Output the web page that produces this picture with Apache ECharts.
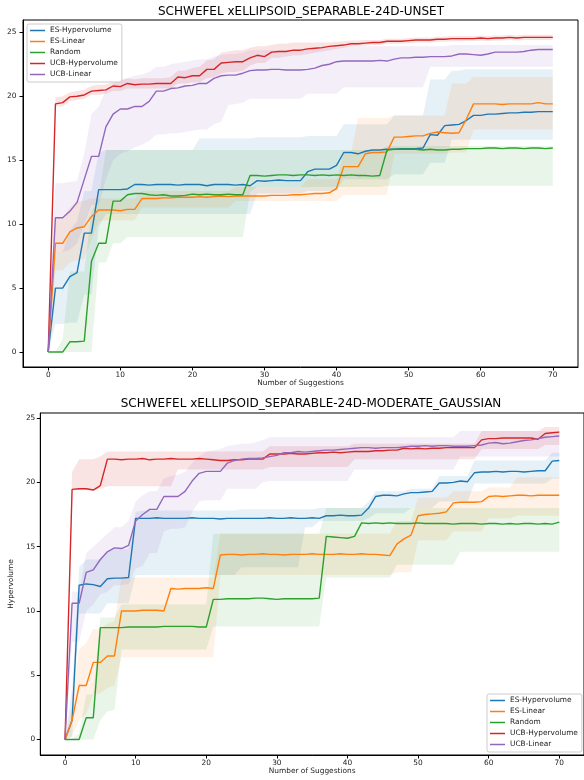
<!DOCTYPE html>
<html>
<head>
<meta charset="utf-8">
<script src="https://cdn.jsdelivr.net/npm/echarts@6/dist/echarts.min.js"></script>
<style>
  html, body { margin: 0; padding: 0; background: #fff; }
  #chart { width: 584px; height: 780px; }
</style>
</head>
<body>
<div id="chart"></div>
<script>
// x = suggestion number 0..70
const suggestions = Array.from({length: 71}, (_, i) => i);
const methods = ['ES-Hypervolume', 'ES-Linear', 'Random', 'UCB-Hypervolume', 'UCB-Linear'];
const xTicks = [0, 10, 20, 30, 40, 50, 60, 70];
const yTicks = [0, 5, 10, 15, 20, 25];
const titles = ['SCHWEFEL xELLIPSOID_SEPARABLE-24D-UNSET', 'SCHWEFEL xELLIPSOID_SEPARABLE-24D-MODERATE_GAUSSIAN'];

// ---- top panel (UNSET) ----
const topEsHv = [0, 5.0, 5.0, 5.9, 6.2, 9.3, 9.3, 12.7, 12.7, 12.7,
  12.7, 12.75, 13.1, 13.1, 13.05, 13.1, 13.1, 13.1, 13.05, 13.1,
  13.1, 13.1, 13.0, 13.1, 13.1, 13.1, 13.05, 13.1, 13.0, 13.4,
  13.35, 13.4, 13.45, 13.4, 13.4, 13.4, 14.1, 14.3, 14.3, 14.3,
  14.6, 15.6, 15.6, 15.5, 15.7, 15.8, 15.8, 15.85, 15.85, 15.9,
  15.9, 15.9, 15.95, 17.0, 16.95, 17.7, 17.75, 17.8, 18.1, 18.5,
  18.5, 18.6, 18.6, 18.65, 18.7, 18.7, 18.75, 18.75, 18.8, 18.8,
  18.8];
const topEsHvLo = [0, 2.2, 2.2, 2.3, 2.3, 4.5, 4.5, 9.8, 10.8, 10.8,
  10.8, 10.8, 10.8, 10.8, 10.8, 10.8, 10.8, 10.8, 10.8, 10.8,
  10.8, 10.8, 10.8, 10.8, 10.8, 10.8, 10.8, 10.8, 10.8, 12.4,
  12.4, 12.4, 12.4, 12.4, 12.4, 12.4, 12.6, 12.6, 12.6, 12.6,
  12.6, 13.5, 13.5, 13.5, 13.5, 13.5, 13.5, 13.5, 13.9, 13.9,
  13.9, 13.9, 13.9, 14.8, 14.8, 14.8, 16.6, 16.6, 16.6, 16.6,
  16.6, 16.6, 16.6, 16.6, 16.6, 16.6, 16.6, 16.6, 16.6, 16.6,
  16.6];
const topEsHvHi = [0, 7.8, 7.8, 9.5, 10.2, 12.6, 12.6, 15.6, 15.8, 15.8,
  15.8, 15.8, 15.8, 15.8, 15.8, 15.8, 15.8, 15.8, 15.8, 15.8,
  15.8, 16.7, 16.7, 16.7, 16.7, 16.7, 16.7, 16.7, 16.7, 16.8,
  16.8, 16.8, 16.8, 16.8, 16.8, 16.8, 16.9, 16.9, 16.9, 16.9,
  16.9, 17.8, 17.8, 17.8, 17.8, 17.8, 17.8, 17.8, 18.5, 18.5,
  18.5, 18.5, 18.5, 21.3, 21.3, 21.3, 22.0, 22.0, 22.1, 22.1,
  22.1, 22.1, 22.1, 22.1, 22.1, 22.1, 22.1, 22.1, 22.1, 22.1,
  22.1];

const topEsLin = [0, 8.5, 8.5, 9.4, 9.7, 9.8, 10.6, 11.1, 11.1, 11.1,
  11.05, 11.15, 11.15, 12.0, 12.0, 12.0, 12.05, 12.05, 12.1, 12.1,
  12.1, 12.15, 12.1, 12.15, 12.2, 12.15, 12.2, 12.2, 12.2, 12.2,
  12.2, 12.25, 12.25, 12.25, 12.3, 12.3, 12.35, 12.4, 12.4, 12.45,
  12.8, 14.5, 14.5, 14.5, 15.5, 15.6, 15.6, 15.65, 16.8, 16.8,
  16.85, 16.9, 16.9, 17.1, 17.2, 17.15, 17.1, 17.15, 18.2, 19.4,
  19.4, 19.4, 19.4, 19.35, 19.4, 19.4, 19.4, 19.4, 19.5, 19.4,
  19.4];
const topEsLinLo = [0, 6.4, 6.4, 7.0, 7.2, 7.3, 8.8, 10.2, 10.3, 10.3,
  10.3, 10.3, 10.3, 11.3, 11.3, 11.3, 11.3, 11.3, 11.3, 11.3,
  11.3, 11.3, 11.3, 11.3, 11.3, 11.3, 11.8, 11.8, 11.8, 11.8,
  11.8, 11.8, 11.8, 11.8, 11.8, 11.8, 11.8, 11.8, 11.8, 11.8,
  11.8, 12.3, 12.3, 12.3, 12.3, 12.3, 12.3, 12.3, 15.5, 15.5,
  15.5, 15.5, 15.5, 15.5, 15.5, 15.5, 15.6, 15.6, 15.6, 17.4,
  17.4, 17.4, 17.4, 17.4, 17.4, 17.4, 17.4, 17.4, 17.4, 17.4,
  17.4];
const topEsLinHi = [0, 10.5, 10.5, 11.3, 11.8, 11.8, 12.0, 12.0, 12.0, 12.0,
  12.0, 12.0, 12.0, 12.6, 12.6, 12.6, 12.6, 12.6, 12.6, 12.6,
  12.6, 12.6, 12.6, 12.6, 12.6, 12.6, 12.9, 12.9, 12.9, 12.9,
  12.9, 12.9, 12.9, 12.9, 12.9, 12.9, 13.5, 13.5, 13.5, 13.5,
  13.5, 15.5, 15.5, 18.3, 18.3, 18.3, 18.3, 18.3, 18.5, 18.5,
  18.5, 18.5, 18.5, 18.5, 18.5, 18.5, 21.0, 21.0, 21.0, 21.5,
  21.5, 21.5, 21.5, 21.5, 21.5, 21.5, 21.5, 21.5, 21.5, 21.5,
  21.5];

const topRandom = [0, 0, 0, 0.8, 0.8, 0.85, 7.1, 8.5, 8.5, 11.8,
  11.8, 12.3, 12.4, 12.4, 12.3, 12.25, 12.3, 12.2, 12.2, 12.25,
  12.35, 12.3, 12.35, 12.3, 12.3, 12.35, 12.3, 12.3, 13.8, 13.8,
  13.75, 13.8, 13.85, 13.85, 13.8, 13.85, 13.85, 13.8, 13.85, 13.8,
  13.85, 13.8, 13.85, 13.8, 13.8, 13.75, 13.8, 15.8, 15.85, 15.85,
  15.85, 15.85, 15.8, 15.85, 15.8, 15.8, 15.85, 15.85, 15.9, 15.9,
  15.9, 15.95, 15.95, 15.9, 15.95, 15.95, 15.9, 15.95, 15.95, 15.9,
  15.95];
const topRandomLo = [0, 0, 0, 0, 0, 0, 0, 7.0, 7.0, 8.5,
  8.5, 9.0, 9.0, 9.0, 9.0, 9.0, 9.0, 9.0, 9.0, 9.0,
  9.0, 9.0, 9.0, 9.0, 9.0, 9.0, 9.0, 9.0, 12.5, 12.9,
  12.9, 12.9, 12.9, 12.9, 12.9, 12.9, 12.9, 12.9, 12.9, 12.9,
  12.9, 12.9, 12.9, 12.9, 12.9, 12.9, 12.9, 13.0, 13.0, 13.0,
  13.0, 13.0, 13.0, 13.0, 13.0, 13.0, 13.0, 13.0, 13.0, 13.0,
  13.0, 13.0, 13.0, 13.0, 13.0, 13.0, 13.0, 13.0, 13.0, 13.0,
  13.0];
const topRandomHi = [0, 0, 1.0, 6.3, 6.3, 6.3, 11.0, 12.0, 15.8, 15.8,
  15.8, 15.8, 15.8, 15.8, 15.8, 15.8, 15.8, 15.8, 15.8, 15.8,
  15.8, 15.8, 15.8, 15.8, 15.8, 15.8, 15.8, 15.8, 15.8, 15.8,
  15.8, 15.8, 15.8, 15.8, 15.8, 15.8, 15.8, 15.8, 15.8, 15.8,
  15.8, 15.8, 15.8, 15.8, 15.8, 15.8, 15.8, 16.1, 16.1, 16.1,
  16.1, 16.1, 16.1, 16.1, 16.1, 16.1, 16.1, 16.1, 16.1, 16.1,
  16.1, 16.1, 16.1, 16.1, 16.1, 16.1, 16.1, 16.1, 16.1, 16.1,
  16.1];

const topUcbHv = [0, 19.4, 19.5, 19.95, 20.0, 20.1, 20.4, 20.45, 20.5, 20.8,
  20.75, 21.0, 20.9, 20.95, 20.95, 21.0, 21.0, 21.0, 21.5, 21.45,
  21.6, 21.6, 22.1, 22.1, 22.6, 22.65, 22.7, 22.7, 23.0, 23.2,
  23.1, 23.45, 23.5, 23.5, 23.6, 23.6, 23.7, 23.75, 23.8, 23.9,
  23.95, 24.0, 24.1, 24.1, 24.15, 24.2, 24.2, 24.3, 24.3, 24.3,
  24.35, 24.4, 24.4, 24.4, 24.45, 24.45, 24.5, 24.5, 24.5, 24.5,
  24.55, 24.5, 24.55, 24.55, 24.6, 24.55, 24.6, 24.6, 24.6, 24.6,
  24.6];
const topUcbHvLo = [0, 19.2, 19.2, 19.6, 19.7, 19.8, 20.1, 20.1, 20.2, 20.4,
  20.4, 20.6, 20.6, 20.6, 20.6, 20.6, 20.6, 20.6, 21.0, 21.0,
  21.1, 21.1, 21.4, 21.5, 21.8, 21.9, 21.9, 22.0, 22.4, 22.6,
  22.6, 23.0, 23.0, 23.1, 23.2, 23.2, 23.3, 23.4, 23.5, 23.6,
  23.7, 23.8, 23.9, 23.9, 23.95, 24.0, 24.0, 24.1, 24.1, 24.1,
  24.15, 24.2, 24.2, 24.2, 24.25, 24.25, 24.3, 24.3, 24.3, 24.3,
  24.35, 24.3, 24.35, 24.35, 24.4, 24.35, 24.4, 24.4, 24.4, 24.4,
  24.4];
const topUcbHvHi = [0, 19.9, 20.0, 20.3, 20.4, 20.5, 20.8, 20.9, 20.9, 21.2,
  21.2, 21.4, 21.3, 21.4, 21.4, 21.4, 21.4, 21.5, 22.0, 22.0,
  22.2, 22.3, 22.8, 22.9, 23.4, 23.5, 23.6, 23.6, 23.8, 23.9,
  23.9, 24.0, 24.1, 24.1, 24.2, 24.2, 24.2, 24.2, 24.2, 24.2,
  24.25, 24.3, 24.35, 24.35, 24.4, 24.4, 24.4, 24.5, 24.5, 24.5,
  24.55, 24.6, 24.6, 24.6, 24.65, 24.65, 24.7, 24.7, 24.7, 24.7,
  24.75, 24.7, 24.75, 24.75, 24.8, 24.75, 24.8, 24.8, 24.8, 24.8,
  24.8];

const topUcbLin = [0, 10.5, 10.5, 11.0, 11.7, 13.5, 15.3, 15.3, 17.6, 18.6,
  19.0, 19.0, 19.2, 19.2, 19.6, 20.4, 20.4, 20.6, 20.65, 20.8,
  20.85, 21.0, 21.0, 21.4, 21.6, 21.65, 21.65, 21.8, 22.0, 22.05,
  22.05, 22.1, 22.1, 22.05, 22.05, 22.05, 22.1, 22.2, 22.4, 22.5,
  22.7, 22.75, 22.75, 22.75, 22.75, 22.75, 22.8, 22.75, 22.9, 23.0,
  23.0, 23.05, 23.05, 23.1, 23.1, 23.1, 23.15, 23.3, 23.3, 23.25,
  23.2, 23.3, 23.45, 23.45, 23.45, 23.45, 23.5, 23.6, 23.65, 23.65,
  23.65];
const topUcbLinLo = [0, 7.8, 7.8, 8.0, 8.5, 10.0, 11.5, 11.5, 13.5, 15.0,
  15.5, 15.7, 16.0, 16.2, 16.5, 17.0, 17.0, 17.1, 17.1, 17.2,
  17.3, 17.4, 17.4, 17.8, 18.0, 19.3, 19.4, 19.5, 19.8, 19.8,
  19.8, 19.8, 19.8, 19.8, 19.8, 19.8, 20.2, 20.2, 20.2, 20.2,
  20.2, 20.7, 20.7, 20.7, 20.7, 20.7, 20.7, 20.7, 20.7, 20.7,
  20.7, 20.7, 20.7, 22.3, 22.3, 22.3, 22.3, 22.3, 22.3, 22.3,
  22.3, 22.3, 22.3, 22.3, 22.3, 22.3, 22.3, 22.3, 22.3, 22.3,
  22.3];
const topUcbLinHi = [0, 13.2, 13.2, 13.3, 13.4, 15.5, 18.6, 19.2, 20.5, 21.0,
  21.3, 21.4, 21.6, 21.7, 21.9, 22.3, 22.3, 22.5, 22.6, 22.7,
  22.8, 22.9, 22.9, 23.1, 23.2, 23.3, 23.3, 23.4, 23.6, 23.6,
  23.6, 23.6, 23.6, 23.6, 23.6, 23.6, 23.8, 23.8, 23.8, 23.8,
  23.8, 23.9, 23.9, 23.9, 23.9, 23.9, 23.9, 23.9, 23.9, 23.9,
  23.9, 23.9, 23.9, 23.9, 23.9, 23.9, 24.0, 24.0, 24.0, 24.0,
  24.0, 24.0, 24.0, 24.0, 24.0, 24.0, 24.0, 24.0, 24.0, 24.0,
  24.0];

// ---- bottom panel (MODERATE_GAUSSIAN) ----
const botEsHv = [0, 1.5, 12.0, 12.1, 12.05, 11.9, 12.5, 12.55, 12.55, 12.6,
  17.2, 17.2, 17.2, 17.25, 17.2, 17.2, 17.2, 17.2, 17.25, 17.2,
  17.2, 17.2, 17.15, 17.2, 17.2, 17.2, 17.2, 17.2, 17.2, 17.25,
  17.2, 17.2, 17.25, 17.2, 17.2, 17.25, 17.2, 17.4, 17.4, 17.45,
  17.4, 17.4, 17.45, 18.0, 18.9, 19.0, 19.0, 18.95, 19.1, 19.2,
  19.2, 19.25, 19.3, 19.95, 19.95, 20.0, 20.1, 20.05, 20.75, 20.8,
  20.8, 20.85, 20.8, 20.85, 20.85, 20.8, 20.85, 20.9, 20.9, 21.65,
  21.7];
const botEsHvLo = [0, 0.2, 9.8, 9.8, 9.8, 9.8, 10.6, 10.6, 10.6, 10.6,
  12.8, 12.8, 12.8, 12.8, 12.8, 12.8, 12.8, 12.8, 12.8, 12.8,
  12.8, 12.8, 12.8, 12.8, 12.8, 13.4, 13.4, 13.4, 13.4, 13.4,
  13.4, 13.4, 13.4, 13.4, 16.5, 16.5, 17.0, 17.0, 17.0, 17.0,
  17.0, 17.0, 17.0, 17.2, 17.6, 17.6, 17.6, 17.6, 17.6, 18.0,
  18.0, 18.0, 18.0, 18.5, 18.5, 18.5, 18.5, 18.5, 19.9, 19.9,
  19.9, 19.9, 19.9, 19.9, 19.9, 19.9, 19.9, 19.9, 19.9, 20.3,
  20.3];
const botEsHvHi = [0, 4.0, 13.4, 14.0, 14.0, 14.0, 14.5, 14.8, 14.8, 14.8,
  17.7, 17.8, 17.8, 17.8, 17.8, 17.8, 17.8, 17.8, 17.8, 17.8,
  17.8, 17.8, 17.8, 17.8, 17.8, 17.9, 17.9, 17.9, 17.9, 17.9,
  17.9, 17.9, 17.9, 17.9, 17.9, 17.9, 18.0, 18.0, 18.0, 18.0,
  18.0, 18.0, 18.0, 18.5, 19.3, 19.3, 19.3, 19.3, 19.3, 19.5,
  19.5, 19.5, 19.5, 20.5, 20.5, 20.5, 20.5, 20.5, 21.7, 21.7,
  21.7, 21.7, 21.7, 21.7, 21.7, 21.7, 21.7, 21.7, 21.7, 22.3,
  22.3];

const botEsLin = [0, 1.5, 4.2, 4.2, 6.0, 6.0, 6.5, 6.5, 10.0, 10.0,
  10.0, 10.05, 10.05, 10.05, 10.0, 11.75, 11.7, 11.75, 11.75, 11.75,
  11.8, 11.75, 14.35, 14.4, 14.4, 14.35, 14.4, 14.4, 14.45, 14.4,
  14.4, 14.35, 14.4, 14.4, 14.4, 14.45, 14.4, 14.4, 14.4, 14.45,
  14.4, 14.4, 14.45, 14.4, 14.4, 14.35, 14.3, 15.2, 15.6, 15.9,
  17.4, 17.5, 17.55, 17.6, 17.7, 18.4, 18.45, 18.45, 18.45, 18.5,
  18.9, 18.95, 18.9, 18.95, 19.0, 19.0, 18.95, 19.0, 19.0, 19.0,
  19.0];
const botEsLinLo = [0, 0.3, 1.5, 2.0, 3.5, 3.6, 4.0, 4.2, 6.4, 6.4,
  6.4, 6.4, 6.4, 6.4, 6.4, 6.4, 6.4, 6.4, 6.4, 6.4,
  6.4, 6.4, 12.8, 12.8, 12.8, 12.8, 12.8, 12.8, 12.8, 12.8,
  12.8, 12.8, 12.8, 12.8, 12.8, 12.8, 12.8, 12.8, 12.8, 12.8,
  12.8, 12.8, 12.8, 12.8, 12.8, 12.8, 12.8, 13.0, 13.0, 13.0,
  15.5, 15.5, 15.5, 15.5, 15.5, 16.2, 16.2, 16.2, 16.2, 16.2,
  17.2, 17.2, 17.2, 17.2, 17.4, 17.4, 17.4, 17.4, 17.4, 17.4,
  17.4];
const botEsLinHi = [0, 2.8, 7.0, 7.5, 8.6, 8.6, 9.0, 9.2, 12.6, 12.6,
  12.6, 12.6, 12.6, 12.6, 12.6, 12.6, 12.6, 12.6, 12.6, 12.6,
  12.6, 12.6, 16.0, 16.0, 16.0, 16.0, 16.0, 16.0, 16.0, 16.0,
  16.0, 16.0, 16.0, 16.0, 16.0, 16.0, 16.0, 16.0, 16.0, 16.0,
  16.0, 16.0, 16.0, 16.0, 16.0, 16.0, 16.0, 17.0, 17.0, 17.0,
  18.8, 18.8, 18.8, 18.8, 18.8, 19.3, 19.3, 19.3, 19.3, 19.3,
  19.6, 19.6, 19.6, 19.6, 20.4, 20.4, 20.4, 20.4, 20.4, 20.4,
  20.4];

const botRandom = [0, 0, 0, 1.7, 1.7, 8.7, 8.7, 8.7, 8.7, 8.75,
  8.75, 8.75, 8.75, 8.75, 8.8, 8.8, 8.8, 8.8, 8.8, 8.75,
  8.75, 10.9, 10.9, 10.95, 10.95, 10.95, 10.95, 11.0, 11.0, 10.95,
  10.9, 10.95, 10.95, 10.95, 10.95, 10.95, 11.0, 15.8, 15.75, 15.7,
  15.65, 15.8, 16.85, 16.8, 16.85, 16.8, 16.85, 16.8, 16.8, 16.8,
  16.85, 16.8, 16.8, 16.8, 16.8, 16.75, 16.8, 16.8, 16.8, 16.75,
  16.8, 16.8, 16.75, 16.8, 16.75, 16.8, 16.8, 16.75, 16.8, 16.75,
  16.9];
const botRandomLo = [0, 0, 0, 0, 0, 1.5, 2.2, 2.3, 7.0, 7.0,
  7.0, 7.0, 7.0, 7.0, 7.0, 7.0, 7.0, 7.0, 7.0, 7.0,
  7.0, 8.8, 8.8, 8.8, 8.8, 8.8, 8.8, 8.8, 8.8, 8.8,
  8.8, 8.8, 8.8, 8.8, 8.8, 8.8, 8.8, 12.6, 12.6, 12.6,
  12.6, 12.6, 12.6, 12.6, 12.6, 12.6, 12.6, 13.6, 13.6, 13.6,
  13.6, 13.6, 13.6, 13.6, 13.6, 13.6, 14.6, 14.6, 14.6, 14.6,
  14.6, 14.6, 14.6, 14.6, 14.6, 14.6, 14.6, 14.6, 14.6, 14.6,
  14.6];
const botRandomHi = [0, 0, 0.5, 3.5, 3.5, 9.5, 9.5, 9.5, 10.5, 10.5,
  10.5, 10.5, 10.5, 10.5, 10.5, 10.5, 10.5, 10.5, 10.5, 10.5,
  10.5, 16.0, 16.0, 16.0, 16.0, 16.0, 16.0, 16.0, 16.0, 16.0,
  16.0, 16.0, 16.0, 16.0, 16.0, 16.0, 16.0, 18.0, 18.0, 18.0,
  18.0, 18.0, 18.0, 18.0, 18.0, 18.0, 18.0, 18.0, 18.0, 18.0,
  18.0, 18.0, 18.0, 18.0, 18.0, 18.0, 18.0, 18.0, 18.0, 18.0,
  18.0, 18.0, 18.0, 18.0, 18.0, 18.0, 18.0, 18.0, 18.0, 18.0,
  18.0];

const botUcbHv = [0, 19.45, 19.5, 19.5, 19.4, 19.75, 21.8, 21.8, 21.75, 21.8,
  21.8, 21.85, 21.75, 21.8, 21.8, 21.85, 21.8, 21.8, 21.8, 21.85,
  21.8, 21.75, 21.7, 21.7, 21.75, 21.75, 21.8, 21.8, 21.8, 22.2,
  22.2, 22.2, 22.25, 22.2, 22.2, 22.25, 22.3, 22.3, 22.35, 22.3,
  22.35, 22.4, 22.4, 22.4, 22.45, 22.45, 22.5, 22.5, 22.65, 22.6,
  22.65, 22.6, 22.65, 22.65, 22.7, 22.7, 22.7, 22.7, 22.7, 23.3,
  23.4, 23.4, 23.45, 23.45, 23.45, 23.45, 23.45, 23.35, 23.8, 23.85,
  23.9];
const botUcbHvLo = [0, 19.4, 19.4, 19.4, 19.4, 19.5, 19.7, 19.7, 19.7, 19.7,
  19.7, 19.7, 19.7, 19.7, 19.7, 19.7, 21.0, 21.0, 21.0, 21.0,
  21.0, 21.0, 21.0, 21.0, 21.0, 21.0, 21.0, 21.0, 21.0, 21.2,
  21.2, 21.2, 21.2, 21.2, 21.2, 21.2, 21.2, 21.2, 21.2, 21.2,
  21.2, 21.8, 21.8, 21.8, 21.8, 21.8, 21.8, 21.8, 21.8, 21.8,
  21.8, 21.8, 21.8, 21.8, 21.8, 21.8, 21.8, 21.8, 21.8, 22.6,
  22.6, 22.6, 22.6, 22.6, 22.6, 22.6, 22.6, 22.6, 22.9, 22.9,
  22.9];
const botUcbHvHi = [0, 20.8, 21.8, 21.8, 21.8, 22.0, 22.4, 22.4, 22.4, 22.4,
  22.4, 22.4, 22.4, 22.4, 22.4, 22.4, 22.4, 22.4, 22.4, 22.4,
  22.4, 22.4, 22.4, 22.4, 22.4, 22.4, 22.4, 22.4, 22.4, 22.8,
  22.8, 22.8, 22.8, 22.8, 22.8, 22.8, 22.8, 22.8, 22.8, 22.8,
  22.8, 23.0, 23.0, 23.0, 23.0, 23.0, 23.0, 23.0, 23.0, 23.0,
  23.0, 23.0, 23.0, 23.0, 23.0, 23.0, 23.0, 23.0, 23.0, 24.0,
  24.0, 24.0, 24.0, 24.0, 24.0, 24.0, 24.0, 24.0, 24.3, 24.3,
  24.3];

const botUcbLin = [0, 10.6, 10.6, 13.0, 13.2, 14.0, 14.6, 14.9, 14.85, 15.1,
  17.0, 17.5, 17.9, 17.9, 18.9, 18.9, 18.9, 19.3, 20.1, 20.7,
  20.85, 20.85, 20.85, 21.5, 21.7, 21.8, 21.85, 21.85, 21.9, 22.0,
  22.1, 22.3, 22.3, 22.4, 22.35, 22.4, 22.45, 22.5, 22.5, 22.55,
  22.6, 22.65, 22.7, 22.7, 22.65, 22.7, 22.7, 22.7, 22.75, 22.8,
  22.8, 22.85, 22.8, 22.85, 22.85, 22.8, 22.8, 22.8, 22.85, 22.9,
  23.05, 23.1, 23.0, 23.05, 23.15, 23.25, 23.3, 23.4, 23.5, 23.55,
  23.6];
const botUcbLinLo = [0, 7.6, 7.6, 10.0, 10.5, 11.3, 11.5, 12.0, 12.0, 12.1,
  13.3, 13.5, 14.5, 14.5, 16.2, 16.4, 16.4, 16.5, 17.7, 18.5,
  18.6, 18.6, 18.6, 19.5, 19.5, 19.5, 19.5, 19.5, 20.0, 20.1,
  20.1, 20.1, 20.1, 20.1, 20.1, 20.1, 20.1, 20.1, 20.1, 20.1,
  20.1, 21.0, 21.0, 21.0, 21.0, 21.0, 21.0, 21.0, 21.0, 21.0,
  21.0, 21.0, 21.0, 21.0, 21.0, 21.0, 22.0, 22.0, 22.0, 22.0,
  22.0, 22.0, 22.0, 22.0, 22.0, 22.0, 22.0, 22.0, 22.0, 22.0,
  22.0];
const botUcbLinHi = [0, 11.5, 11.5, 14.5, 15.0, 15.5, 16.0, 16.5, 16.5, 17.0,
  18.5, 19.0, 19.3, 19.3, 20.3, 20.5, 20.6, 20.8, 21.5, 22.0,
  22.4, 22.5, 22.6, 22.8, 22.9, 23.0, 23.0, 23.1, 23.3, 23.5,
  23.5, 23.5, 23.5, 23.5, 23.5, 23.5, 23.5, 23.5, 23.5, 23.5,
  23.5, 23.5, 23.5, 23.5, 23.5, 23.5, 23.5, 23.5, 23.5, 23.5,
  23.5, 23.5, 23.5, 23.5, 23.5, 23.5, 24.0, 24.0, 24.0, 24.0,
  24.0, 24.0, 24.0, 24.0, 24.0, 24.0, 24.0, 24.0, 24.0, 24.0,
  24.0];

// matplotlib tab10
const colors = ['#1f77b4', '#ff7f0e', '#2ca02c', '#d62728', '#9467bd'];
const fills = ['rgba(31,119,180,0.11)', 'rgba(255,127,14,0.11)', 'rgba(44,160,44,0.11)',
  'rgba(214,39,40,0.13)', 'rgba(148,103,189,0.11)'];
const font = 'DejaVu Sans';

const panels = [
  {
    means: [topEsHv, topEsLin, topRandom, topUcbHv, topUcbLin],
    lows: [topEsHvLo, topEsLinLo, topRandomLo, topUcbHvLo, topUcbLinLo],
    highs: [topEsHvHi, topEsLinHi, topRandomHi, topUcbHvHi, topUcbLinHi]
  },
  {
    means: [botEsHv, botEsLin, botRandom, botUcbHv, botUcbLin],
    lows: [botEsHvLo, botEsLinLo, botRandomLo, botUcbHvLo, botUcbLinLo],
    highs: [botEsHvHi, botEsLinHi, botRandomHi, botUcbHvHi, botUcbLinHi]
  }
];

// shaded band drawn as one polygon through the axis scales
function bandSeries(lo, hi, fill, gi) {
  return {
    type: 'custom',
    xAxisIndex: gi,
    yAxisIndex: gi,
    silent: true,
    z: 1,
    data: suggestions.map((x, i) => [x, lo[i], hi[i]]),
    encode: {x: 0, y: [1, 2]},
    renderItem(params, api) {
      if (params.dataIndex !== 0) return null;
      const pts = [];
      for (let i = 0; i < suggestions.length; i++) pts.push(api.coord([suggestions[i], hi[i]]));
      for (let i = suggestions.length - 1; i >= 0; i--) pts.push(api.coord([suggestions[i], lo[i]]));
      return {type: 'polygon', shape: {points: pts}, style: {fill: fill}};
    }
  };
}

function lineSeries(name, ys, color, gi) {
  return {
    type: 'line',
    name: name,
    xAxisIndex: gi,
    yAxisIndex: gi,
    z: 3,
    symbol: 'none',
    data: suggestions.map((x, i) => [x, ys[i]]),
    lineStyle: {color: color, width: 1.4},
    itemStyle: {color: color}
  };
}

const series = [];
panels.forEach((p, gi) => {
  p.means.forEach((m, k) => series.push(bandSeries(p.lows[k], p.highs[k], fills[k], gi)));
  p.means.forEach((m, k) => series.push(lineSeries(methods[k], m, colors[k], gi)));
});

function xAxisOf(gi) {
  return {
    gridIndex: gi, type: 'value', min: -3.5, max: 73.5,
    name: 'Number of Suggestions', nameLocation: 'middle', nameGap: 13,
    nameTextStyle: {fontSize: 7.4, color: '#222', fontFamily: font},
    axisLine: {onZero: false, lineStyle: {color: '#000', width: 1}},
    axisTick: {customValues: xTicks, length: 3.5, lineStyle: {color: '#000'}},
    axisLabel: {customValues: xTicks, fontSize: 7.4, color: '#222', margin: 5, fontFamily: font},
    splitLine: {show: false}
  };
}

const legendBase = {
  orient: 'vertical',
  data: methods,
  icon: 'rect',
  itemWidth: 15,
  itemHeight: 1.5,
  itemGap: 0,
  padding: [1, 4, 2, 3],
  backgroundColor: 'rgba(255,255,255,0.8)',
  borderColor: '#cccccc',
  borderWidth: 1,
  borderRadius: 2,
  selectedMode: false,
  textStyle: {fontSize: 7.4, color: '#222', fontFamily: font, lineHeight: 11}
};

const option = {
  animation: false,
  backgroundColor: '#fff',
  graphic: [
    {type: 'text', x: 301, y: 12, style: {text: titles[0], fill: '#000', font: '12px "DejaVu Sans"', textAlign: 'center', textVerticalAlign: 'middle'}},
    {type: 'text', x: 311, y: 404, style: {text: titles[1], fill: '#000', font: '12px "DejaVu Sans"', textAlign: 'center', textVerticalAlign: 'middle'}}
  ],
  legend: [
    Object.assign({}, legendBase, {left: 27, top: 24}),
    Object.assign({}, legendBase, {left: 487, top: 694})
  ],
  grid: [
    {left: 23, top: 20, width: 555, height: 347, show: true, borderColor: '#000', borderWidth: 1},
    {left: 36, top: 413, width: 550, height: 342, show: true, borderColor: '#000', borderWidth: 1}
  ],
  xAxis: [xAxisOf(0), xAxisOf(1)],
  yAxis: [
    {
      gridIndex: 0, type: 'value', min: -1.17, max: 25.96,
      axisLine: {onZero: false, lineStyle: {color: '#000', width: 1}},
      axisTick: {customValues: yTicks, length: 3.5, lineStyle: {color: '#000'}},
      axisLabel: {customValues: yTicks, fontSize: 7.4, color: '#222', margin: 6.5, fontFamily: font},
      splitLine: {show: false}
    },
    {
      gridIndex: 1, type: 'value', min: -1.2, max: 25.39,
      name: 'Hypervolume', nameLocation: 'middle', nameGap: 19,
      nameTextStyle: {fontSize: 7.4, color: '#222', fontFamily: font},
      axisLine: {onZero: false, lineStyle: {color: '#000', width: 1}},
      axisTick: {customValues: yTicks, length: 3.5, lineStyle: {color: '#000'}},
      axisLabel: {customValues: yTicks, fontSize: 7.4, color: '#222', margin: 5, fontFamily: font},
      splitLine: {show: false}
    }
  ],
  series: series
};

const chart = echarts.init(document.getElementById('chart'));
chart.setOption(option);
</script>
</body>
</html>
